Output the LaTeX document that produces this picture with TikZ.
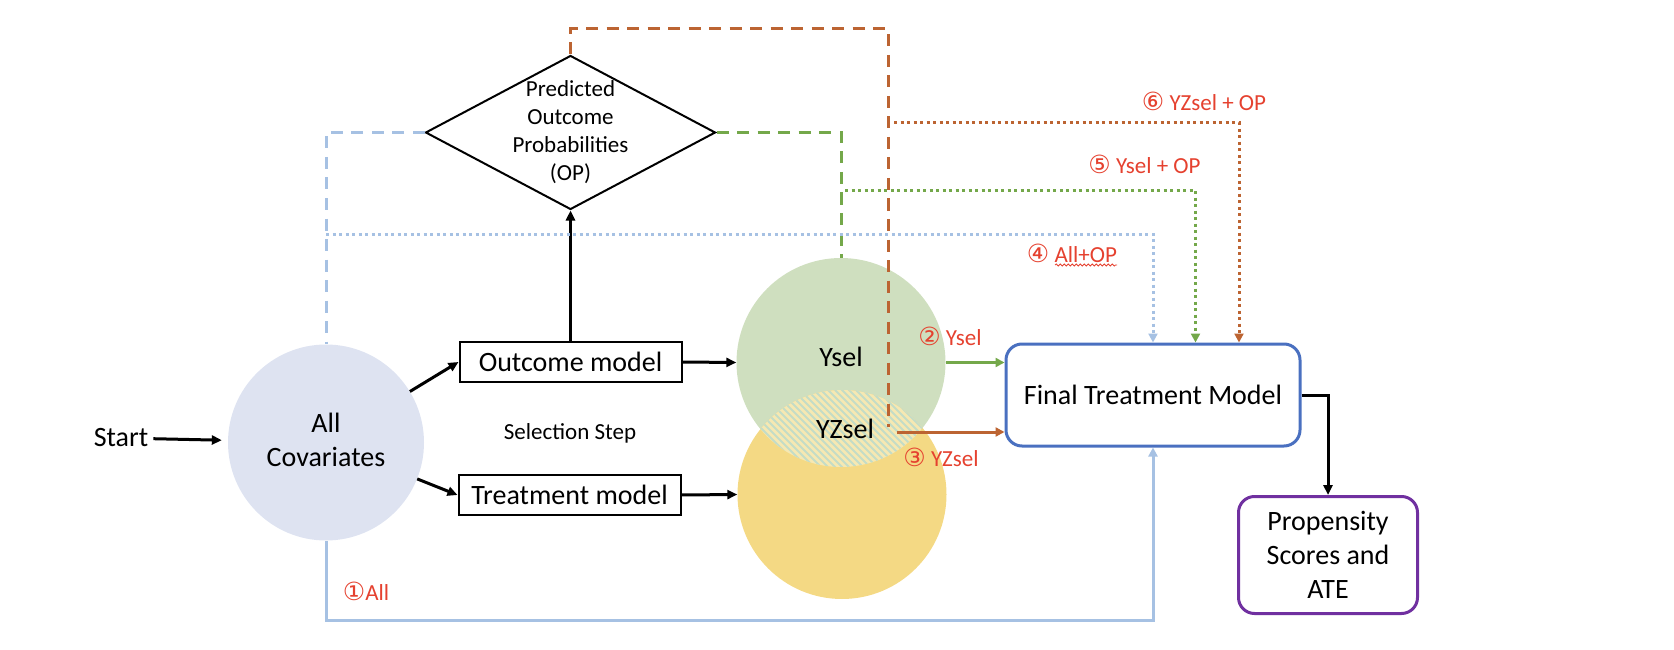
\documentclass[tikz,border=0pt]{standalone}
\usepackage{fontspec}
\setmainfont{Carlito}
\newfontfamily\dvs{DejaVu Sans}
\usetikzlibrary{arrows.meta,shapes.geometric,decorations.pathmorphing,calc}
\definecolor{lav}{HTML}{DEE3F1}
\definecolor{grnfill}{HTML}{CFDFBF}
\definecolor{yelfill}{HTML}{F4D984}
\definecolor{hatchbg}{HTML}{F6E8B2}
\definecolor{hatchln}{HTML}{C4DCC6}
\definecolor{lblue}{HTML}{A6C1E3}
\definecolor{gline}{HTML}{74A84A}
\definecolor{bline}{HTML}{BC6432}
\definecolor{redc}{HTML}{E5412F}
\definecolor{boxblue}{HTML}{4A70C0}
\definecolor{purp}{HTML}{7030A0}
\newcommand{\cn}[1]{{\dvs\fontsize{25}{26}\selectfont #1}}
\begin{document}
\begin{tikzpicture}[x=1pt,y=-1pt,
  maintxt/.style={font=\fontsize{28}{34}\selectfont, align=center, inner sep=0pt},
  smalltxt/.style={font=\fontsize{23}{28}\selectfont, align=center, inner sep=0pt},
  redlbl/.style={font=\fontsize{23}{26}\selectfont, text=redc, inner sep=0pt},
  modelbox/.style={draw=black, line width=2pt, minimum width=222pt, minimum height=40pt, inner sep=0pt, font=\fontsize{28}{34}\selectfont},
  roundbox/.style={line width=3pt, rounded corners=16pt, inner sep=0pt, align=center, font=\fontsize{28}{34}\selectfont},
  blkarr/.style={line width=3pt, -{Triangle[length=10pt,width=9pt]}},
  colarr/.style={line width=3pt, -{Triangle[length=9pt,width=9pt]}},
  dashd/.style={line width=3pt, dash pattern=on 12pt off 8.5pt},
  dotd/.style={line width=3pt, dash pattern=on 3pt off 3.5pt},
  setcircle/.style={circle, minimum size=209pt, inner sep=0pt, draw=none}
]
\useasboundingbox (0,0) rectangle (1674,650);

% sets
\node[setcircle, fill=grnfill] (ysel) at (841,362.5) {};
\node[setcircle, fill=yelfill] (yz) at (842,494.5) {};
\begin{scope}
  \clip (ysel.center) circle (104.5);
  \clip (yz.center) circle (104.5);
  \fill[hatchbg] (730,380) rectangle (960,470);
  \foreach \k in {0,7,...,420}
    \draw[hatchln, line width=1.8pt] (600+\k,330) -- ++(160,160);
\end{scope}
\node[maintxt] (yseltxt) at (841,357) {Ysel};
\node[maintxt] (yztxt) at (845,429) {YZsel};

% main nodes
\node[maintxt, inner sep=5pt] (start) at (121,438) {Start};
\node[circle, fill=lav, minimum size=196pt, inner sep=0pt] (all) at (326,442.5) {};
\node[maintxt] (alltxt) at (326,440) {All\\Covariates};
\node[modelbox] (outm) at (570.5,362) {Outcome model};
\node[modelbox] (trtm) at (569.5,495) {Treatment model};
\node[smalltxt] (sel) at (570,433) {Selection Step};
\node[diamond, draw=black, line width=2pt, minimum width=290pt, minimum height=154pt, inner sep=0pt] (op) at (570.5,132.5) {};
\node[smalltxt] (optxt) at (op.center) {Predicted\\Outcome\\Probabilities\\(OP)};
\node[roundbox, draw=boxblue, minimum width=294pt, minimum height=102pt] (final) at (1153,395) {Final Treatment Model};
\node[roundbox, draw=purp, minimum width=179pt, minimum height=117pt] (prop) at (1328,555) {Propensity\\Scores and\\ATE};

% coordinates for free ends
\coordinate (brtop) at (888,29);
\coordinate (brend) at (888,427);
\coordinate (yzout) at (897,432);
\coordinate (bdot) at (326,234);
\coordinate (gdot) at (845,190.7);
\coordinate (brdot) at (894,122.7);
\coordinate (sq1) at (1055,265);
\coordinate (sq2) at (1117,265);

% black connectors
\draw[blkarr, shorten >=6pt] (start) -- (all);
\draw[blkarr] (all) -- (outm.west);
\draw[blkarr] (all) -- (trtm.west);
\draw[blkarr] (outm.east) -- (ysel.west);
\draw[blkarr] (trtm.east) -- (yz.west);
\draw[blkarr] (outm.north) -- (op.south);
\draw[blkarr] (final.east) -| (prop.north);

% dashed from OP
\draw[dashd, lblue] (op.west) -| (all.north);
\draw[dashd, gline] (op.east) -| (ysel.north);
\draw[dashd, bline] (op.north) |- (brtop) -- (brend);

% dotted to final
\draw[dotd, lblue, -{Triangle[length=9pt,width=9pt]}] (bdot) -| (final.north);
\draw[dotd, gline, -{Triangle[length=9pt,width=9pt]}] (gdot) -| ($(final.north)+(42.5,0)$);
\draw[dotd, bline, -{Triangle[length=9pt,width=9pt]}] (brdot) -| ($(final.north)+(86,0)$);

% solid coloured
\draw[colarr, gline] (ysel.east) -- (ysel.east -| final.west);
\draw[colarr, bline] (yzout) -- (yzout -| final.west);
\draw[colarr, lblue] (all.south) -- ++(0,80) -| (final.south);

% labels
\node[redlbl] (l1) at (366,591) {\cn{①}All};
\node[redlbl] (l2) at (950,336) {\cn{②} Ysel};
\node[redlbl] (l3) at (941,457) {\cn{③} YZsel};
\node[redlbl] (l4) at (1072,253) {\cn{④} All+OP};
\node[redlbl] (l5) at (1144.5,164) {\cn{⑤} Ysel + OP};
\node[redlbl] (l6) at (1204,101.7) {\cn{⑥} YZsel + OP};
\draw[redc, line width=0.8pt, decorate, decoration={snake, amplitude=1pt, segment length=4pt}] (sq1) -- (sq2);
\end{tikzpicture}
\end{document}
